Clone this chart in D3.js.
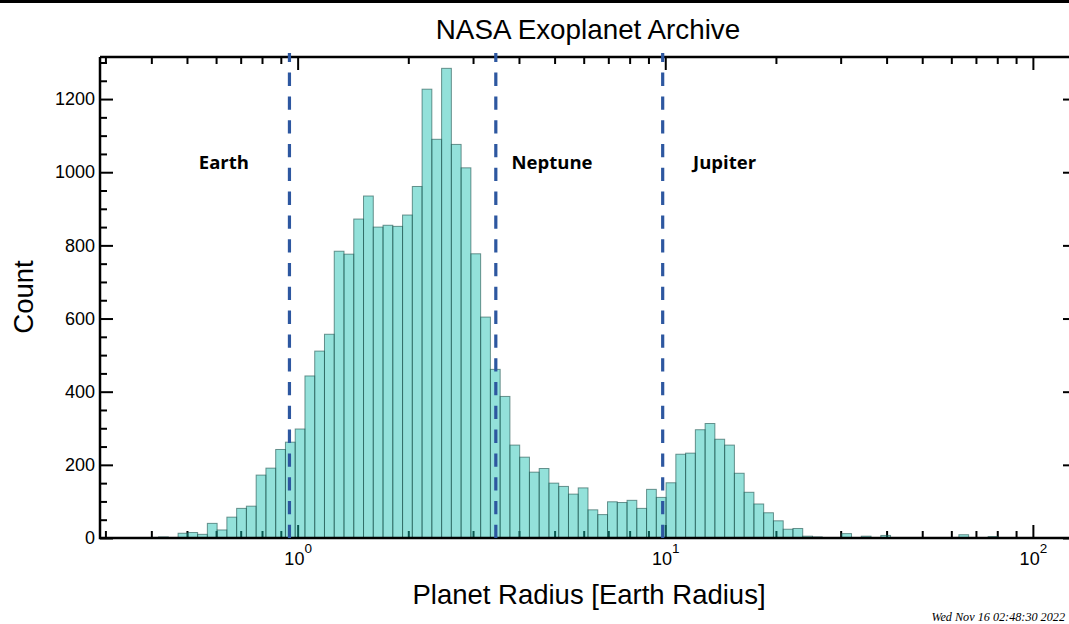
<!DOCTYPE html>
<html>
<head>
<meta charset="utf-8">
<script src="https://cdn.jsdelivr.net/npm/d3@7"></script>
<style>
  html, body { margin: 0; padding: 0; background: #fff; }
  svg { display: block; }
</style>
</head>
<body>
<svg id="chart" width="1069" height="624"></svg>
<script>
// Planet radius histogram: 100 log-spaced bins (Earth radii)
const radiusMin = 0.29;
const radiusMax = 131;
const binCounts = [
  1, 1, 0, 0, 1, 0, 3, 1, 13, 15,
  10, 40, 22, 57, 81, 87, 172, 191, 242, 262,
  298, 443, 511, 557, 784, 776, 872, 935, 850, 855,
  852, 883, 961, 1227, 1090, 1284, 1076, 1012, 777, 604,
  461, 387, 254, 221, 180, 190, 150, 141, 120, 137,
  77, 64, 99, 97, 103, 81, 133, 111, 151, 229,
  232, 296, 313, 270, 254, 177, 125, 93, 69, 47,
  24, 26, 5, 3, 1, 0, 12, 1, 5, 0,
  7, 1, 1, 0, 0, 0, 0, 0, 9, 0,
  0, 4, 0, 0, 0, 0, 0, 0, 0, 0
];

// Reference planets marked with dashed lines
const refNames = ["Earth", "Neptune", "Jupiter"];
const refRadii = [0.95, 3.46, 9.84];
const refLabelRadii = [0.63, 4.92, 14.5];

const yMajorTicks = [0, 200, 400, 600, 800, 1000, 1200];
const yMinorTicks = [50, 100, 150, 250, 300, 350, 450, 500, 550, 650, 700, 750, 850, 900, 950, 1050, 1100, 1150, 1250, 1300];
const xMajorTicks = [1, 10, 100];
const xMinorTicks = [0.3, 0.4, 0.5, 0.6, 0.7, 0.8, 0.9, 2, 3, 4, 5, 6, 7, 8, 9, 20, 30, 40, 50, 60, 70, 80, 90];
const xTickExponent = ["0", "1", "2"];

const titleText = "NASA Exoplanet Archive";
const xLabel = "Planet Radius [Earth Radius]";
const yLabel = "Count";
const stampText = "Wed Nov 16 02:48:30 2022";

const yMax = 1315;

const svg = d3.select("#chart");
const plotLeft = 100, plotRight = 1076, plotTop = 57, plotBottom = 538;

const x = d3.scaleLog().domain([radiusMin, radiusMax]).range([plotLeft, plotRight]);
const y = d3.scaleLinear().domain([0, yMax]).range([plotBottom, plotTop]);

// Log-spaced bin edges across the axis range
const nBins = binCounts.length;
const lo = Math.log10(radiusMin), hi = Math.log10(radiusMax);
const edges = d3.range(nBins + 1).map(i => Math.pow(10, lo + (hi - lo) * i / nBins));
const bins = binCounts.map((c, i) => ({ x0: edges[i], x1: edges[i + 1], count: c }));

const sans = "'Liberation Sans', Arial, Helvetica, sans-serif";

// thin black band along the top edge
svg.append("rect").attr("x", 0).attr("y", 0).attr("width", 1069).attr("height", 3).attr("fill", "#000");

// Title
svg.append("text")
  .attr("x", 588).attr("y", 39)
  .attr("text-anchor", "middle")
  .attr("font-family", sans).attr("font-size", 27.8)
  .text(titleText);

// Inward ticks on every side
function styleTicks(g) {
  g.select(".domain").remove();
  g.selectAll(".tick line").attr("stroke", "#000").attr("stroke-width", 2);
}

// bottom (ticks point up)
svg.append("g").attr("transform", `translate(0,${plotBottom})`)
  .call(d3.axisTop(x).tickValues(xMajorTicks).tickSize(13).tickFormat(""))
  .call(styleTicks);
svg.append("g").attr("transform", `translate(0,${plotBottom})`)
  .call(d3.axisTop(x).tickValues(xMinorTicks).tickSize(7).tickFormat(""))
  .call(styleTicks);
// top (ticks point down)
svg.append("g").attr("transform", `translate(0,${plotTop})`)
  .call(d3.axisBottom(x).tickValues(xMajorTicks).tickSize(13).tickFormat(""))
  .call(styleTicks);
svg.append("g").attr("transform", `translate(0,${plotTop})`)
  .call(d3.axisBottom(x).tickValues(xMinorTicks).tickSize(7).tickFormat(""))
  .call(styleTicks);
// left (ticks point right)
svg.append("g").attr("transform", `translate(${plotLeft},0)`)
  .call(d3.axisRight(y).tickValues(yMajorTicks).tickSize(13).tickFormat(""))
  .call(styleTicks);
svg.append("g").attr("transform", `translate(${plotLeft},0)`)
  .call(d3.axisRight(y).tickValues(yMinorTicks).tickSize(7).tickFormat(""))
  .call(styleTicks);
// right (ticks point left)
svg.append("g").attr("transform", `translate(${plotRight},0)`)
  .call(d3.axisLeft(y).tickValues(yMajorTicks).tickSize(13).tickFormat(""))
  .call(styleTicks);
svg.append("g").attr("transform", `translate(${plotRight},0)`)
  .call(d3.axisLeft(y).tickValues(yMinorTicks).tickSize(7).tickFormat(""))
  .call(styleTicks);

// Histogram bars (translucent, so ticks show through)
svg.append("g")
  .selectAll("rect")
  .data(bins.filter(b => b.count > 0))
  .join("rect")
  .attr("x", d => x(d.x0))
  .attr("width", d => x(d.x1) - x(d.x0))
  .attr("y", d => y(d.count))
  .attr("height", d => y(0) - y(d.count))
  .attr("fill", "rgb(20,190,175)")
  .attr("fill-opacity", 0.46)
  .attr("stroke", "rgb(30,80,75)")
  .attr("stroke-opacity", 0.6)
  .attr("stroke-width", 1);

// Frame
svg.append("path")
  .attr("d", `M${plotLeft},${plotTop}V${plotBottom}H${plotRight + 2}M${plotLeft},${plotTop}H${plotRight + 2}`)
  .attr("fill", "none").attr("stroke", "#000").attr("stroke-width", 2.5);

// Y tick labels
svg.append("g").attr("transform", `translate(${plotLeft},0)`)
  .call(d3.axisLeft(y).tickValues(yMajorTicks).tickSize(0).tickPadding(5).tickFormat(d3.format("d")))
  .call(g => g.select(".domain").remove())
  .call(g => g.selectAll("text").attr("font-family", sans).attr("font-size", 18).attr("fill", "#000"));

// X tick labels: powers of ten with superscript exponents
const xLab = svg.append("g").attr("transform", `translate(0,${plotBottom})`)
  .call(d3.axisBottom(x).tickValues(xMajorTicks).tickSize(0).tickFormat(""))
  .call(g => g.select(".domain").remove());
xLab.selectAll(".tick").each(function(d, i) {
  const t = d3.select(this).append("text")
    .attr("y", 27).attr("x", 0)
    .attr("text-anchor", "middle")
    .attr("fill", "#000")
    .attr("font-family", sans).attr("font-size", 18);
  t.append("tspan").text("10");
  t.append("tspan").attr("dy", -12).attr("font-size", 13.5).text(xTickExponent[i]);
});

// Axis titles
svg.append("text")
  .attr("x", 589).attr("y", 604)
  .attr("text-anchor", "middle")
  .attr("font-family", sans).attr("font-size", 27.5)
  .text(xLabel);
svg.append("text")
  .attr("transform", "translate(33,297) rotate(-90)")
  .attr("text-anchor", "middle")
  .attr("font-family", sans).attr("font-size", 27.5)
  .text(yLabel);

// Reference planet lines
svg.append("g")
  .selectAll("line")
  .data(refRadii)
  .join("line")
  .attr("x1", d => x(d)).attr("x2", d => x(d))
  .attr("y1", plotTop - 4).attr("y2", plotBottom + 2)
  .attr("stroke", "#2D57A0")
  .attr("stroke-width", 3.2)
  .attr("stroke-dasharray", "13.3,10.5")
  .attr("stroke-dashoffset", 4.2);

svg.append("g")
  .selectAll("text")
  .data(refNames)
  .join("text")
  .attr("x", (d, i) => x(refLabelRadii[i]))
  .attr("y", 168.5)
  .attr("text-anchor", "middle")
  .attr("font-family", "'Open Sans', sans-serif")
  .attr("font-weight", 700)
  .attr("font-size", 18.5)
  .attr("fill", "#000")
  .text(d => d);

// Timestamp
svg.append("text")
  .attr("x", 1065).attr("y", 621)
  .attr("text-anchor", "end")
  .attr("font-family", "'Liberation Serif', 'Times New Roman', serif")
  .attr("font-style", "italic")
  .attr("font-size", 12.2)
  .text(stampText);
</script>
</body>
</html>
